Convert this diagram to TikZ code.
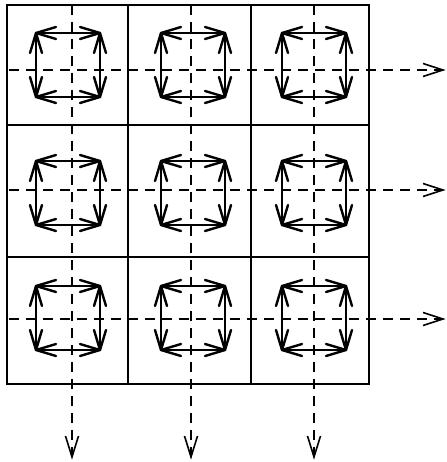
\documentclass[tikz,border=0pt]{standalone}
\usetikzlibrary{arrows.meta}
\begin{document}
\begin{tikzpicture}[x=1pt,y=-1pt,
  gridline/.style={line width=1.7pt},
  flow/.style={line width=1.6pt,dash pattern=on 10pt off 7pt},
  flowhead/.style={line width=1.6pt,line join=miter},
  spin/.style={line width=2.3pt,line join=round},
  spinhead/.style={line width=2.4pt,line join=round,line cap=round}]
\useasboundingbox (0,0) rectangle (446,462);

% outer frame and cell boundaries
\coordinate (nw) at (7,5);
\coordinate (se) at (369,384);
\draw[gridline] (nw) rectangle (se);
\foreach \x [count=\i] in {128,251}{
  \coordinate (gt\i) at (\x,5); \coordinate (gb\i) at (\x,384);
  \draw[gridline] (gt\i) -- (gb\i);
}
\foreach \y [count=\i] in {125,257}{
  \coordinate (gl\i) at (7,\y); \coordinate (gr\i) at (369,\y);
  \draw[gridline] (gl\i) -- (gr\i);
}

% dashed flow lines: rows run right, columns run down
\foreach \y [count=\i] in {70,190,319}{
  \coordinate (hs\i) at (9,\y); \coordinate (he\i) at (443,\y);
  \draw[flow] (hs\i) -- (he\i);
  \draw[flowhead] (he\i) ++(-20,-6.5) -- (he\i) -- ++(-20,6.5);
}
\foreach \x [count=\i] in {72,191,314}{
  \coordinate (vs\i) at (\x,5); \coordinate (ve\i) at (\x,457);
  \draw[flow] (vs\i) -- (ve\i);
  \draw[flowhead] (ve\i) ++(-6.5,-21) -- (ve\i) -- ++(6.5,-21);
}

% square of outward double arrows in every cell
\def\hs{32}
\def\hl{20}
\def\hw{6}
\foreach \cx [count=\i] in {68,193,314}{
  \foreach \cy [count=\j] in {65,193,318}{
    \coordinate (a\i\j) at (\cx-\hs,\cy-\hs);
    \coordinate (b\i\j) at (\cx+\hs,\cy-\hs);
    \coordinate (c\i\j) at (\cx+\hs,\cy+\hs);
    \coordinate (d\i\j) at (\cx-\hs,\cy+\hs);
    \draw[spin] (a\i\j) -- (b\i\j) -- (c\i\j) -- (d\i\j) -- cycle;
    % heads at the upper left corner
    \draw[spinhead] (a\i\j) ++(\hl,-\hw) -- (a\i\j) -- ++(\hl,\hw);
    \draw[spinhead] (a\i\j) ++(-\hw,\hl) -- (a\i\j) -- ++(\hw,\hl);
    % upper right
    \draw[spinhead] (b\i\j) ++(-\hl,-\hw) -- (b\i\j) -- ++(-\hl,\hw);
    \draw[spinhead] (b\i\j) ++(-\hw,\hl) -- (b\i\j) -- ++(\hw,\hl);
    % lower right
    \draw[spinhead] (c\i\j) ++(-\hl,-\hw) -- (c\i\j) -- ++(-\hl,\hw);
    \draw[spinhead] (c\i\j) ++(-\hw,-\hl) -- (c\i\j) -- ++(\hw,-\hl);
    % lower left
    \draw[spinhead] (d\i\j) ++(\hl,-\hw) -- (d\i\j) -- ++(\hl,\hw);
    \draw[spinhead] (d\i\j) ++(-\hw,-\hl) -- (d\i\j) -- ++(\hw,-\hl);
  }
}
\end{tikzpicture}
\end{document}
